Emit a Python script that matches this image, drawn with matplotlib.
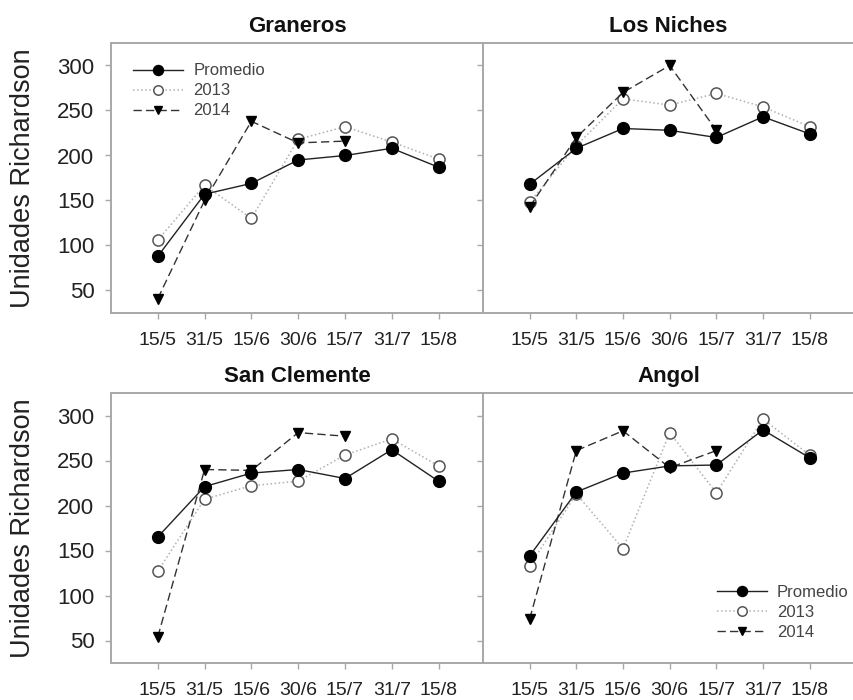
import numpy as np
import matplotlib
matplotlib.use('Agg')
import matplotlib.pyplot as plt

plt.rcParams['font.family'] = ['Liberation Sans', 'DejaVu Sans']

# Fechas de muestreo
fechas = ['15/5', '31/5', '15/6', '30/6', '15/7', '31/7', '15/8']

# Unidades Richardson por localidad (Promedio, 2013, 2014)
graneros_prom = [88, 157, 169, 195, 200, 208, 187]
graneros_2013 = [106, 167, 130, 218, 232, 215, 196]
graneros_2014 = [41, 150, 238, 214, 216]

niches_prom = [168, 208, 230, 228, 220, 243, 224]
niches_2013 = [148, 211, 263, 256, 269, 254, 232]
niches_2014 = [143, 220, 270, 300, 228]

clemente_prom = [165, 221, 236, 240, 230, 262, 227]
clemente_2013 = [127, 207, 222, 227, 256, 274, 244]
clemente_2014 = [54, 240, 239, 281, 277]

angol_prom = [144, 215, 236, 244, 245, 284, 253]
angol_2013 = [133, 213, 152, 281, 214, 296, 256]
angol_2014 = [74, 261, 283, 242, 261]

paneles = [
    ('Graneros', graneros_prom, graneros_2013, graneros_2014),
    ('Los Niches', niches_prom, niches_2013, niches_2014),
    ('San Clemente', clemente_prom, clemente_2013, clemente_2014),
    ('Angol', angol_prom, angol_2013, angol_2014),
]

W, H = 854, 700
fig = plt.figure(figsize=(W / 100, H / 100), dpi=100)

# posiciones en pixeles: (izq, arriba, der, abajo)
cajas = [(111, 43, 483, 313), (483, 43, 854, 313),
         (111, 393, 483, 663), (483, 393, 854, 663)]

gris = '#a8a8a8'
x = np.arange(len(fechas))

for i, (nombre, prom, a2013, a2014) in enumerate(paneles):
    l, t, r, b = cajas[i]
    ax = fig.add_axes([l / W, 1 - b / H, (r - l) / W, (b - t) / H])

    ax.plot(x, a2013, linestyle=':', color='#b0b0b0', lw=1.1, marker='o',
            markersize=8, markerfacecolor='white', markeredgecolor='#555555',
            markeredgewidth=1.1, label='2013', zorder=2)
    ax.plot(x[:len(a2014)], a2014, linestyle=(0, (6, 3)), color='#333333', lw=1.0,
            marker='v', markersize=7.5, markerfacecolor='black',
            markeredgecolor='black', label='2014', zorder=3)
    ax.plot(x, prom, linestyle='-', color='#222222', lw=1.0, marker='o',
            markersize=8.5, markerfacecolor='black', markeredgecolor='black',
            label='Promedio', zorder=4)

    ax.set_xlim(-1, 6.95)
    ax.set_ylim(25, 325)
    ax.set_xticks(x)
    ax.set_xticklabels(fechas)
    ax.set_yticks([50, 100, 150, 200, 250, 300])
    ax.set_title(nombre, fontsize=16, fontweight='bold', pad=8, color='#111111')

    for s in ax.spines.values():
        s.set_color(gris)
        s.set_linewidth(1.4)
    if i % 2 == 1:
        ax.spines['right'].set_visible(False)
        ax.tick_params(axis='y', labelleft=False)
    ax.tick_params(axis='both', direction='out', length=4, width=1, color=gris)
    ax.tick_params(axis='x', labelsize=14, pad=10, labelcolor='#222222')
    ax.tick_params(axis='y', labelsize=16, pad=8, labelcolor='#222222')

    # orden de la leyenda: Promedio, 2013, 2014
    h, lab = ax.get_legend_handles_labels()
    orden = [2, 0, 1]
    if i == 0:
        ax.legend([h[k] for k in orden], [lab[k] for k in orden], loc='upper left',
                  bbox_to_anchor=(0.02, 0.98), frameon=False, fontsize=12,
                  handlelength=3.0, handletextpad=0.6, labelspacing=0.3,
                  labelcolor='#444444', markerscale=0.85)
    if i == 3:
        ax.legend([h[k] for k in orden], [lab[k] for k in orden], loc='lower left',
                  bbox_to_anchor=(0.59, 0.03), frameon=False, fontsize=12,
                  handlelength=3.0, handletextpad=0.6, labelspacing=0.3,
                  labelcolor='#444444', markerscale=0.85)

for yc in [178, 528]:
    fig.text(23 / W, 1 - yc / H, 'Unidades Richardson', rotation=90,
             ha='center', va='center', fontsize=19.5, color='#222222')

fig.savefig('out.png', dpi=100, facecolor='white')
